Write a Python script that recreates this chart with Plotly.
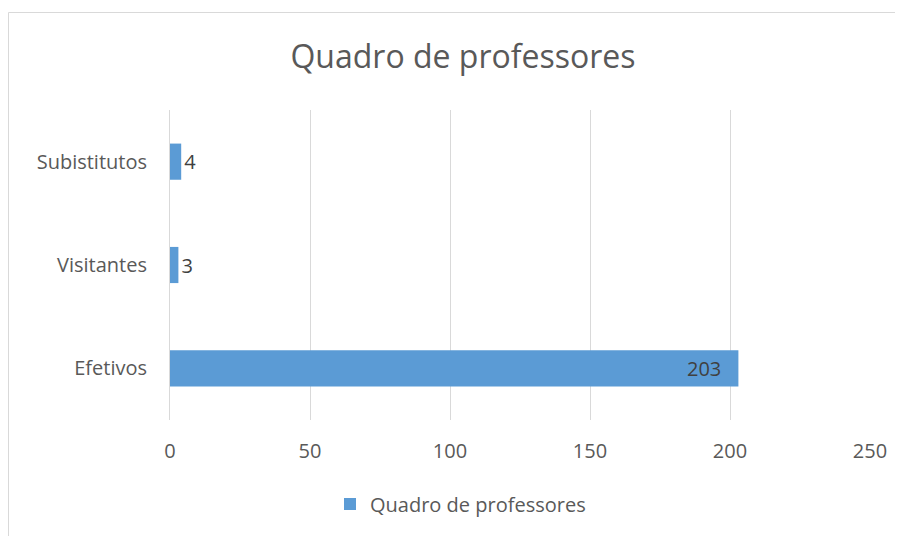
import plotly.graph_objects as go

categories = ["Efetivos", "Visitantes", "Subistitutos"]
values = [203, 3, 4]
series_name = "Quadro de professores"
x_ticks = [0, 50, 100, 150, 200, 250]

FONT = "Open Sans"
BAR = "#5B9BD5"
AX = "#595959"
LBL = "#404040"

# labels: big bar gets its label inside (annotation), small bars outside
outside_text = [str(v) if v < 50 else "" for v in values]

fig = go.Figure()
fig.add_trace(go.Bar(
    x=values, y=categories, orientation="h", name=series_name,
    marker=dict(color=BAR, line=dict(width=0)),
    text=outside_text, textposition="outside", cliponaxis=False,
    textfont=dict(family=FONT, size=20, color=LBL),
    hoverinfo="x+y",
))

annotations = []
for c, v in zip(categories, values):
    if v >= 50:
        annotations.append(dict(
            x=v, y=c, xref="x", yref="y", text=str(v), showarrow=False,
            xanchor="right", xshift=-15,
            font=dict(family=FONT, size=20, color=LBL),
        ))

OFF = 8  # page body margin
SW, SH = 903, 536
W, H = SW - OFF, SH - OFF
# plot area in screen pixels
L, R, T, B = 170, 870, 110, 420
pw, ph = R - L, B - T

fig.update_layout(
    width=W, height=H,
    margin=dict(l=L - OFF, r=W - (R - OFF), t=T - OFF, b=H - (B - OFF), pad=0),
    paper_bgcolor="white", plot_bgcolor="white",
    bargap=0.65,
    title=dict(text="Quadro de professores", x=(463 - OFF) / W,
               xanchor="center", y=1 - (57 - OFF) / H, yanchor="middle",
               font=dict(family=FONT, size=32, color=AX)),
    xaxis=dict(range=[0, 250], tickvals=x_ticks, showgrid=True,
               gridcolor="#D9D9D9", gridwidth=1, zeroline=False,
               showline=False, ticks="", ticklabelstandoff=17,
               tickfont=dict(family=FONT, size=20, color=AX), fixedrange=True),
    yaxis=dict(categoryorder="array", categoryarray=categories,
               showgrid=False, zeroline=False, showline=True,
               linecolor="#D9D9D9", linewidth=1, ticks="",
               ticklabelstandoff=18,
               tickfont=dict(family=FONT, size=20, color=AX), fixedrange=True),
    showlegend=True,
    legend=dict(orientation="h", x=(330 - L) / pw, xanchor="left",
                y=(B - 504) / ph, yanchor="middle",
                font=dict(family=FONT, size=20, color=AX),
                itemwidth=30, bgcolor="rgba(0,0,0,0)"),
    annotations=annotations,
    shapes=[dict(type="rect", xref="paper", yref="paper",
                 x0=(8.5 - L) / pw, x1=(SW + 20 - L) / pw,
                 y0=(B - (SH + 20)) / ph, y1=1 + (T - 12.5) / ph,
                 line=dict(color="#D9D9D9", width=1), fillcolor="rgba(0,0,0,0)",
                 layer="below")],
)

fig.write_html("out.html")
